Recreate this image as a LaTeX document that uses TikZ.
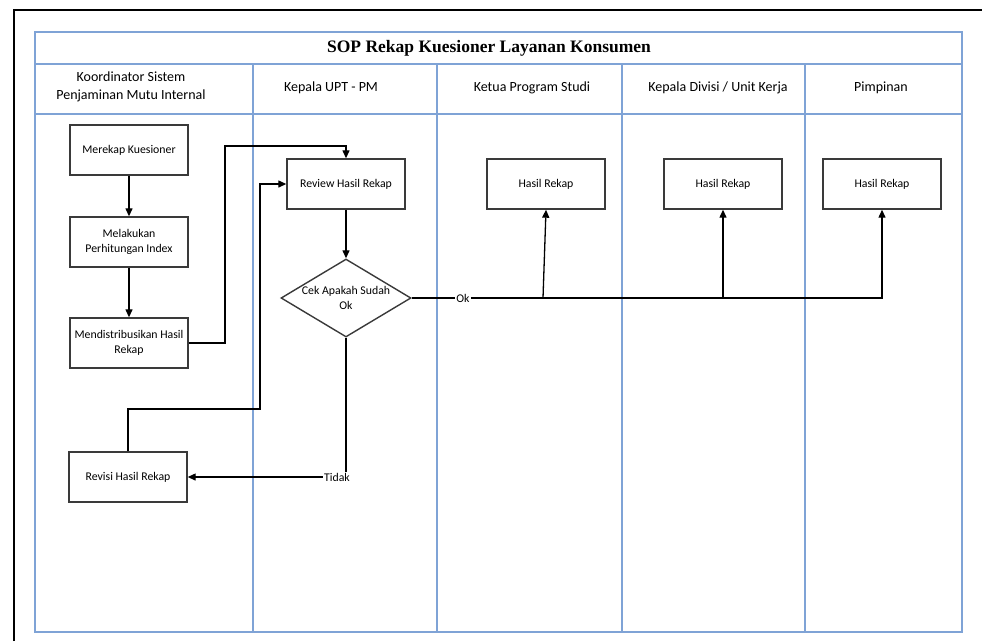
\documentclass[tikz,border=0pt]{standalone}
\usepackage{fontspec}
\setmainfont{Carlito}
\newfontfamily\titlefont{Liberation Serif}
\usetikzlibrary{shapes.geometric,arrows.meta}
\definecolor{laneblue}{HTML}{7FA3D6}
\definecolor{boxline}{HTML}{3A3A3A}
\tikzset{
  lane/.style={draw=laneblue, line width=1.3pt},
  procbox/.style={draw=boxline, line width=1.4pt, rectangle, minimum width=118pt,
    minimum height=50pt, align=center, font=\fontsize{11.8}{15}\selectfont, inner sep=2pt},
  decision/.style={draw=boxline, line width=1.4pt, diamond, aspect=1.67,
    minimum width=130pt, minimum height=78pt, inner sep=0pt, align=center,
    font=\fontsize{11.8}{15}\selectfont},
  header/.style={align=center, font=\fontsize{14}{18}\selectfont},
  flow/.style={draw=black, line width=1.3pt},
  arr/.style={flow, -{Triangle[length=8pt,width=7pt]}},
  lbl/.style={fill=white, inner sep=1pt, font=\fontsize{11.8}{14}\selectfont}
}
\begin{document}
\begin{tikzpicture}[x=1pt,y=-1pt]
\useasboundingbox (0,0) rectangle (982,641);
% page frame (top and left edges)
\draw[line width=2pt] (14,641) -- (14,10) -- (982,10);

% swimlane table
\draw[lane] (35,32) rectangle (962,632);
\draw[lane] (35,64) -- (962,64);
\draw[lane] (35,114) -- (962,114);
\foreach \xx in {253,437,622,805} \draw[lane] (\xx,64) -- (\xx,632);

% title and lane headers
\node[font=\titlefont\bfseries\fontsize{17.5}{20}\selectfont] (title) at (489,48) {SOP Rekap Kuesioner Layanan Konsumen};
\node[header] (h1) at (131,87) {Koordinator Sistem\\Penjaminan Mutu Internal};
\node[header] (h2) at (331,88) {Kepala UPT - PM};
\node[header] (h3) at (532,88) {Ketua Program Studi};
\node[header] (h4) at (718,88) {Kepala Divisi / Unit Kerja};
\node[header] (h5) at (881,88) {Pimpinan};

% process steps
\node[procbox] (rekap) at (129,150) {Merekap Kuesioner};
\node[procbox] (hitung) at (129,242) {Melakukan\\Perhitungan Index};
\node[procbox] (distrib) at (129,343) {Mendistribusikan Hasil\\Rekap};
\node[procbox] (revisi) at (128,477) {Revisi Hasil Rekap};
\node[procbox] (review) at (346,184) {Review Hasil Rekap};
\node[decision] (cek) at (346,298) {Cek Apakah Sudah\\Ok};
\node[procbox] (hasil1) at (546,184) {Hasil Rekap};
\node[procbox] (hasil2) at (723,184) {Hasil Rekap};
\node[procbox] (hasil3) at (882,184) {Hasil Rekap};

% routing points
\coordinate (d1) at (225,146);
\coordinate (r1) at (260,409);
\coordinate (b1) at (543,298);
\coordinate (b2) at (723,298);

% connectors
\draw[arr] (rekap) -- (hitung);
\draw[arr] (hitung) -- (distrib);
\draw[arr] (distrib.east) -| (d1) -| (review.north);
\draw[arr] (revisi.north) |- (r1) |- (review.west);
\draw[arr] (review) -- (cek);
\draw[arr] (cek.south) |- (revisi.east);
\node[lbl] (tidak) at (337,477) {Tidak};
\node[lbl] (ok) at (463,298) {Ok};
\draw[flow] (cek.east) -- (ok.west);
\draw[arr] (ok.east) -| (hasil3.south);
\draw[arr] (b1) -- (hasil1.south);
\draw[arr] (b2) -- (hasil2.south);
\end{tikzpicture}
\end{document}
